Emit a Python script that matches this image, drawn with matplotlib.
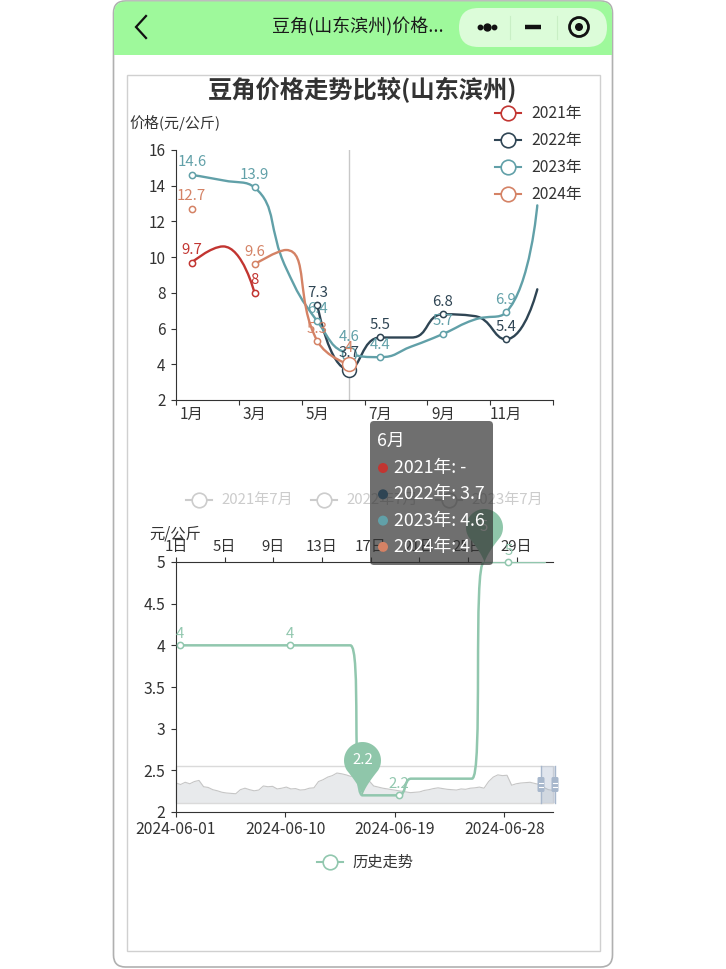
import math
import numpy as np
import pandas as pd
import matplotlib
matplotlib.use('Agg')
from matplotlib import pyplot as plt
from matplotlib.path import Path
from matplotlib.patches import PathPatch, FancyBboxPatch, Rectangle, Circle
import matplotlib.dates as mdates

plt.rcParams['font.family'] = ['Noto Sans CJK SC', 'DejaVu Sans']

W, H = 726, 969

# ---------------- data ----------------
months = ['1月', '2月', '3月', '4月', '5月', '6月', '7月', '8月', '9月', '10月', '11月', '12月']
years = ['2021年', '2022年', '2023年', '2024年']
price_2021 = [9.7, 10.6, 8.0, None, None, None, None, None, None, None, None, None]
price_2022 = [None, None, None, None, 7.3, 3.7, 5.5, 5.5, 6.8, 6.7, 5.4, 8.2]
price_2023 = [14.6, 14.3, 13.9, 9.4, 6.4, 4.6, 4.4, 5.0, 5.7, 6.5, 6.9, 12.9]
price_2024 = [12.7, None, 9.6, 10.4, 5.3, 4.0, None, None, None, None, None, None]
year_colors = ['#c23531', '#2f4554', '#61a0a8', '#d48265']
hover_month = 5

july_legend = ['2021年7月', '2022年7月', '2023年7月']
hist_dates = pd.date_range('2024-06-01', '2024-07-01', freq='D')
hist_prices = [4.0, 4.0, 4.0, 4.0, 4.0, 4.0, 4.0, 4.0, 4.0, 4.0,
               4.0, 4.0, 4.0, 4.0, 4.0, 2.2, 2.2, 2.2, 2.2, 2.4,
               2.4, 2.4, 2.4, 2.4, 2.4, 5.0, 5.0, 5.0, 5.0, 5.0, 5.0]
hist_name = '历史走势'
hist_color = '#91c7ae'
# long history shown in the zoom slider (relative height)
slider_shadow = [5.4, 5.0, 5.6, 5.2, 5.8, 6.1, 4.4, 4.2, 3.6, 3.3, 2.9, 2.7, 2.6, 2.5,
                 3.6, 4.0, 3.6, 3.3, 3.5, 4.6, 4.4, 4.5, 3.8, 4.0, 4.3, 3.8, 3.9,
                 3.5, 3.6, 4.0, 4.1, 5.8, 6.3, 7.0, 7.4, 8.1, 7.9, 7.6, 7.2, 7.4,
                 7.0, 6.4, 6.0, 4.6, 4.3, 4.0, 3.8, 3.6, 3.4, 3.2, 3.0, 2.8, 2.9,
                 3.0, 3.4, 3.6, 3.9, 4.1, 3.9, 3.7, 3.6, 3.5, 3.8, 3.7, 4.0, 4.1,
                 4.3, 4.0, 5.8, 7.0, 7.6, 7.4, 7.5, 4.8, 5.2, 5.4, 5.5, 5.6, 5.3,
                 5.0, 4.2, 3.6, 3.4]

TXT = '#333333'


def px_rect(x0, y0, x1, y1):
    return [x0 / W, 1 - y1 / H, (x1 - x0) / W, (y1 - y0) / H]


def smooth_path(xs, ys, sx, sy, k=0.5):
    # echarts-like bezier smoothing, computed in pixel space
    P = [(x * sx, y * sy) for x, y in zip(xs, ys)]
    n = len(P)
    cin = list(P)
    cout = list(P)
    for i in range(1, n - 1):
        (x0, y0), (x, y), (x1, y1) = P[i - 1], P[i], P[i + 1]
        l0 = math.hypot(x - x0, y - y0)
        l1 = math.hypot(x1 - x, y1 - y)
        if l0 == 0 or l1 == 0:
            continue
        r = l1 / (l0 + l1)
        ox = x + (x1 - x0) * k * r
        oy = y + (y1 - y0) * k * r
        ox = min(max(ox, min(x, x1)), max(x, x1))
        oy = min(max(oy, min(y, y1)), max(y, y1))
        ix = x - (ox - x) * l0 / l1
        iy = y - (oy - y) * l0 / l1
        ix = min(max(ix, min(x, x0)), max(x, x0))
        iy = min(max(iy, min(y, y0)), max(y, y0))
        ox = x + (x - ix) * l1 / l0
        oy = y + (y - iy) * l1 / l0
        cin[i] = (ix, iy)
        cout[i] = (ox, oy)
    verts = [P[0]]
    codes = [Path.MOVETO]
    for i in range(n - 1):
        verts += [cout[i], cin[i + 1], P[i + 1]]
        codes += [Path.CURVE4] * 3
    verts = [(vx / sx, vy / sy) for vx, vy in verts]
    return Path(verts, codes)


def runs(vals):
    out, cur = [], []
    for i, v in enumerate(vals):
        if v is None:
            if cur:
                out.append(cur)
            cur = []
        else:
            cur.append(i)
    if cur:
        out.append(cur)
    return out


def pin_marker():
    cy, r = 35.0, 18.5
    beta = math.degrees(math.acos(r / cy))
    a0, a1 = -90 + beta, 270 - beta
    pts = []
    for a in np.linspace(a0, a1, 40):
        pts.append((r * math.cos(math.radians(a)), cy + r * math.sin(math.radians(a))))
    L = pts[-1]
    R = pts[0]
    for t in np.linspace(0, 1, 10)[1:]:
        c = (-2.5, 9.0)
        pts.append(((1 - t) ** 2 * L[0] + 2 * (1 - t) * t * c[0],
                    (1 - t) ** 2 * L[1] + 2 * (1 - t) * t * c[1]))
    for t in np.linspace(0, 1, 10)[1:]:
        c = (2.5, 9.0)
        pts.append((2 * (1 - t) * t * c[0] + t ** 2 * R[0],
                    2 * (1 - t) * t * c[1] + t ** 2 * R[1]))
    return Path(pts + [pts[0]], closed=True)


fig = plt.figure(figsize=(W / 100, H / 100), dpi=100)

# ---------------- background / phone frame ----------------
bg = fig.add_axes([0, 0, 1, 1], zorder=0)
bg.set_xlim(0, W)
bg.set_ylim(H, 0)
bg.axis('off')

green = '#9ef99b'
bg.add_patch(FancyBboxPatch((113.5, 1), 499, 966, boxstyle='round,pad=0,rounding_size=12',
                            fc='white', ec='#b0b0b0', lw=1.2))
bg.add_patch(FancyBboxPatch((114, 1.5), 498, 53, boxstyle='round,pad=0,rounding_size=12',
                            fc=green, ec='none'))
bg.add_patch(Rectangle((114, 30), 498, 25, fc=green, ec='none'))
bg.plot([146, 136, 146], [16, 27, 38], color='#111111', lw=1.6, solid_joinstyle='miter')
bg.text(358, 27, '豆角(山东滨州)价格...', ha='center', va='center', fontsize=13, color='#1a1a1a')
bg.add_patch(FancyBboxPatch((459, 8), 148, 39, boxstyle='round,pad=0,rounding_size=19.5',
                            fc='#dcfcd9', ec='none'))
bg.plot([510, 510], [16, 39], color='#c9efc5', lw=0.8)
bg.plot([557, 557], [16, 39], color='#c9efc5', lw=0.8)
bg.plot([480, 494], [27, 27], 'o', color='#111111', ms=3.2)
bg.plot([487], [27], 'o', color='#111111', ms=5)
bg.plot([525, 541], [27, 27], color='#111111', lw=3.2, solid_capstyle='butt')
bg.add_patch(Circle((579, 27), 9.5, fc='none', ec='#111111', lw=2))
bg.add_patch(Circle((579, 27), 4, fc='#111111', ec='none'))

bg.add_patch(Rectangle((126.5, 74.5), 473, 876, fc='none', ec='#d0d0d0', lw=1))

# title, axis name, legend of chart 1
bg.text(363, 90, '豆角价格走势比较(山东滨州)', ha='center', va='center', fontsize=17.5,
        fontweight='bold', color=TXT)
bg.text(129, 123, '价格(元/公斤)', ha='left', va='center', fontsize=10.8, color=TXT)
for k, (name, c) in enumerate(zip(years, year_colors)):
    y = 113 + 27 * k
    bg.plot([495, 521], [y, y], color=c, lw=1.5)
    bg.plot([508], [y], 'o', ms=10.5, mfc='white', mec=c, mew=1.2)
    bg.text(531, y, name, ha='left', va='center', fontsize=11.3, color=TXT)

# disabled legend of chart 2
for k, name in enumerate(july_legend):
    cx = 199 + 125 * k
    bg.plot([cx - 13, cx + 13], [500, 500], color='#cccccc', lw=1.5)
    bg.plot([cx], [500], 'o', ms=10.5, mfc='white', mec='#cccccc', mew=1.2)
    bg.text(cx + 22, 500, name, ha='left', va='center', fontsize=10.8, color='#cccccc')
bg.text(175, 534, '元/公斤', ha='center', va='center', fontsize=11, color=TXT)

# bottom legend
bg.plot([317, 343], [862, 862], color=hist_color, lw=1.5)
bg.plot([330], [862], 'o', ms=10.5, mfc='white', mec=hist_color, mew=1.2)
bg.text(352, 862, hist_name, ha='left', va='center', fontsize=11, color=TXT)

# ---------------- chart 1: monthly comparison ----------------
ax1 = fig.add_axes(px_rect(176, 150, 553, 400), zorder=2)
ax1.patch.set_alpha(0)
ax1.set_xlim(-0.5, 11.5)
ax1.set_ylim(2, 16)
sx1, sy1 = 377 / 12, 250 / 14
ax1.axvline(hover_month, color='#c8c8c8', lw=1, zorder=1)

series = [price_2021, price_2022, price_2023, price_2024]
for vals, c in zip(series, year_colors):
    for run in runs(vals):
        if len(run) > 1:
            pth = smooth_path(run, [vals[i] for i in run], sx1, sy1)
            ax1.add_patch(PathPatch(pth, fc='none', ec=c, lw=1.7, zorder=3, capstyle='round'))
    idx = [i for i in range(0, 12, 2) if vals[i] is not None]
    ax1.plot(idx, [vals[i] for i in idx], 'o', ms=4.5, mfc='white', mec=c, mew=1.1, zorder=4)
    for i in idx:
        ax1.annotate('%g' % vals[i], (i, vals[i]), xytext=(0, 4), textcoords='offset points',
                     ha='center', va='bottom', color=c, fontsize=10.8, zorder=5)
    v = vals[hover_month]
    if v is not None:
        ax1.plot([hover_month], [v], 'o', ms=10, mfc='white', mec=c, mew=1.1, zorder=4)
        ax1.annotate('%g' % v, (hover_month, v), xytext=(0, 7), textcoords='offset points',
                     ha='center', va='bottom', color=c, fontsize=10.8, zorder=5)

for s in ['top', 'right']:
    ax1.spines[s].set_visible(False)
for s in ['left', 'bottom']:
    ax1.spines[s].set_color(TXT)
ax1.set_yticks(range(2, 17, 2))
ax1.tick_params(axis='y', direction='out', length=3.6, color=TXT, labelsize=11,
                labelcolor=TXT, pad=4)
ax1.set_xticks(np.arange(-0.5, 12, 2))
ax1.set_xticklabels([])
ax1.set_xticks(range(0, 12, 2), minor=True)
ax1.set_xticklabels(months[::2], minor=True)
ax1.tick_params(axis='x', which='major', direction='out', length=3.6, color=TXT)
ax1.tick_params(axis='x', which='minor', length=0, labelsize=11, labelcolor=TXT, pad=4)

# ---------------- chart 2: daily history ----------------
ax_s = fig.add_axes(px_rect(176, 766, 553, 803), zorder=1)
ax_s.set_xlim(0, len(slider_shadow) - 1)
ax_s.set_ylim(0, 10)
ax_s.axis('off')
ax_s.fill_between(range(len(slider_shadow)), slider_shadow, 0, color='#e8eaec', lw=0)
ax_s.plot(range(len(slider_shadow)), slider_shadow, color='#c6c6c6', lw=0.8)
ax_s.add_patch(Rectangle((0, 0), 1, 1, transform=ax_s.transAxes, fc='none', ec='#dadada',
                         lw=1, clip_on=False))

ax2 = fig.add_axes(px_rect(176, 562, 553, 812), zorder=2)
ax2.patch.set_alpha(0)
t = mdates.date2num(hist_dates + pd.Timedelta(hours=8))
x0 = mdates.date2num(hist_dates[0])
ax2.set_xlim(x0, x0 + len(hist_dates))
ax2.set_ylim(2, 5)
sx2, sy2 = 377 / len(hist_dates), 250 / 3
ax2.add_patch(PathPatch(smooth_path(t, hist_prices, sx2, sy2), fc='none', ec=hist_color,
                        lw=1.8, zorder=3, capstyle='round'))
idx2 = list(range(0, len(t), 9))
ax2.plot(t[idx2], [hist_prices[i] for i in idx2], 'o', ms=4.5, mfc='white', mec=hist_color,
         mew=1.1, zorder=4, clip_on=False)
for i in idx2:
    ax2.annotate('%g' % hist_prices[i], (t[i], hist_prices[i]), xytext=(0, 3),
                 textcoords='offset points', ha='center', va='bottom', color=hist_color,
                 fontsize=10.8, zorder=5, annotation_clip=False)

pin = pin_marker()
for i in [int(np.argmin(hist_prices)), int(np.argmax(hist_prices))]:
    ax2.plot([t[i]], [hist_prices[i]], marker=pin, ms=77, color='#8fc6aa', mec='none',
             zorder=6, clip_on=False)
    ax2.annotate('%g' % hist_prices[i], (t[i], hist_prices[i]), xytext=(0, 25.2),
                 textcoords='offset points', ha='center', va='center', color='white',
                 fontsize=10.8, zorder=7, annotation_clip=False)

for s in ['right', 'top']:
    ax2.spines[s].set_visible(False)
for s in ['left', 'bottom']:
    ax2.spines[s].set_color(TXT)
ax2.set_yticks([2, 2.5, 3, 3.5, 4, 4.5, 5])
ax2.set_yticklabels(['%g' % v for v in [2, 2.5, 3, 3.5, 4, 4.5, 5]])
ax2.tick_params(axis='y', direction='out', length=3.6, color=TXT, labelsize=11.3,
                labelcolor=TXT, pad=4)
bot = hist_dates[::9]
ax2.set_xticks(mdates.date2num(bot))
ax2.set_xticklabels([d.strftime('%Y-%m-%d') for d in bot])
ax2.tick_params(axis='x', direction='out', length=3.6, color=TXT, labelsize=11.3,
                labelcolor=TXT, pad=3)

top = ax2.secondary_xaxis('top')
topd = hist_dates[::4]
top.set_xticks(mdates.date2num(topd))
top.set_xticklabels(['%d日' % d.day for d in topd])
top.tick_params(axis='x', direction='out', length=3.6, color=TXT, labelsize=10.8,
                labelcolor=TXT, pad=2)
top.spines['top'].set_color(TXT)

# ---------------- overlay: slider window + tooltip ----------------
ov = fig.add_axes([0, 0, 1, 1], zorder=10)
ov.set_xlim(0, W)
ov.set_ylim(H, 0)
ov.axis('off')
ov.patch.set_alpha(0)

ov.add_patch(Rectangle((541, 766), 14, 37, fc='#a7b7cc', alpha=0.35, ec='none'))
for hx in [541, 555]:
    ov.plot([hx, hx], [766, 803], color='#a7b7cc', lw=1)
    ov.add_patch(FancyBboxPatch((hx - 3.5, 777), 7, 15, boxstyle='round,pad=0,rounding_size=1.5',
                                fc='#a7b7cc', ec='none'))
    ov.plot([hx - 2, hx + 2], [782.5, 782.5], color='white', lw=0.8)
    ov.plot([hx - 2, hx + 2], [786.5, 786.5], color='white', lw=0.8)

ov.add_patch(FancyBboxPatch((370, 421), 123, 144, boxstyle='round,pad=0,rounding_size=4',
                            fc='#323232', ec='none', alpha=0.7))
ov.text(377, 441, months[hover_month], ha='left', va='center', fontsize=12.8, color='white')
for k, (name, vals, c) in enumerate(zip(years, series, year_colors)):
    y = 468 + 26.3 * k
    v = vals[hover_month]
    ov.add_patch(Circle((383, y), 5, fc=c, ec='none'))
    ov.text(394, y, '%s: %s' % (name, '-' if v is None else '%g' % v), ha='left', va='center',
            fontsize=12.8, color='white')

fig.savefig('out.png', dpi=100)
